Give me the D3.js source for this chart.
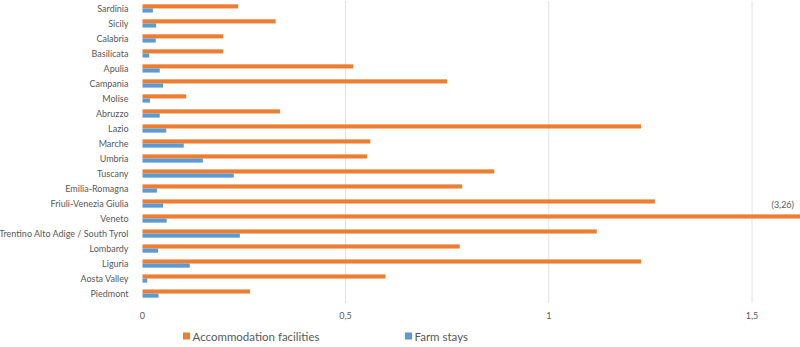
<!DOCTYPE html>
<html>
<head>
<meta charset="utf-8">
<script src="https://cdn.jsdelivr.net/npm/d3@7"></script>
<style>
  body { margin: 0; background: #fff; }
  svg { display: block; font-family: Lato, "Open Sans", sans-serif; }
</style>
</head>
<body>
<svg id="chart"></svg>
<script>
const width = 800;
const height = 347;

// regions, top to bottom as drawn
const regions = ["Sardinia", "Sicily", "Calabria", "Basilicata", "Apulia", "Campania", "Molise",
    "Abruzzo", "Lazio", "Marche", "Umbria", "Tuscany", "Emilia-Romagna", "Friuli-Venezia Giulia",
    "Veneto", "Trentino Alto Adige / South Tyrol", "Lombardy", "Liguria", "Aosta Valley", "Piedmont"];
const accommodation = [0.236, 0.328, 0.199, 0.199, 0.519, 0.75, 0.108,
    0.339, 1.227, 0.561, 0.553, 0.866, 0.787, 1.261,
    3.26, 1.118, 0.781, 1.227, 0.598, 0.265];
const farmStays = [0.026, 0.034, 0.033, 0.017, 0.043, 0.051, 0.019,
    0.043, 0.059, 0.102, 0.149, 0.225, 0.036, 0.051,
    0.06, 0.24, 0.039, 0.117, 0.012, 0.04];
const seriesNames = ["Accommodation facilities", "Farm stays"];
const tickValues = [0, 0.5, 1, 1.5];
const colors = ["#ED7D31", "#5B9BD5"];

const margin = {left: 142.3, right: 0, top: 1, bottom: 45};

const svg = d3.select("#chart").attr("width", width).attr("height", height);

const x = d3.scaleLinear()
    .domain([0, 1.618])
    .range([margin.left, width - margin.right]);

const y = d3.scaleBand()
    .domain(regions)
    .range([margin.top, height - margin.bottom - 1])
    .paddingInner(0.45)
    .paddingOuter(0.22);

const sub = d3.scaleBand()
    .domain(seriesNames)
    .range([0, y.bandwidth()]);

// gridlines
svg.append("g")
    .selectAll("line")
    .data(tickValues.slice(1))
    .join("line")
    .attr("x1", d => x(d)).attr("x2", d => x(d))
    .attr("y1", margin.top).attr("y2", height - margin.bottom + 1)
    .attr("stroke", "#e3e3e3")
    .attr("stroke-width", 1);

svg.append("clipPath").attr("id", "plot")
    .append("rect")
    .attr("x", margin.left).attr("y", 0)
    .attr("width", width - margin.left).attr("height", height - margin.bottom);

const rows = regions.map((r, i) => ({region: r, values: [accommodation[i], farmStays[i]]}));

const groups = svg.append("g")
    .attr("clip-path", "url(#plot)")
    .selectAll("g")
    .data(rows)
    .join("g")
    .attr("transform", d => `translate(0,${y(d.region)})`);

groups.selectAll("rect")
    .data(d => d.values.map((v, k) => ({v: v, k: k})))
    .join("rect")
    .attr("x", x(0))
    .attr("y", d => sub(seriesNames[d.k]))
    .attr("width", d => x(d.v) - x(0))
    .attr("height", sub.bandwidth())
    .attr("fill", d => colors[d.k]);

// category labels
svg.append("g")
    .selectAll("text")
    .data(regions)
    .join("text")
    .attr("x", 128.5)
    .attr("y", d => y(d) + y.bandwidth() / 2)
    .attr("dy", "0.35em")
    .attr("text-anchor", "end")
    .attr("font-size", 9)
    .attr("fill", "#595959")
    .text(d => d);

// value axis labels
const fmt = d => String(d).replace(".", ",");
svg.append("g")
    .selectAll("text")
    .data(tickValues)
    .join("text")
    .attr("x", d => x(d))
    .attr("y", 319)
    .attr("text-anchor", "middle")
    .attr("font-size", 9)
    .attr("fill", "#595959")
    .text(fmt);

// clipped value annotation
const veneto = regions.indexOf("Veneto");
svg.append("text")
    .attr("x", 794)
    .attr("y", y("Veneto") - 6)
    .attr("text-anchor", "end")
    .attr("font-size", 9)
    .attr("fill", "#595959")
    .text("(" + fmt(accommodation[veneto]) + ")");

// legend
const legendX = [183, 405];
const legend = svg.append("g")
    .selectAll("g")
    .data(seriesNames)
    .join("g")
    .attr("transform", (d, i) => `translate(${legendX[i]},337)`);

legend.append("rect")
    .attr("x", 0).attr("y", -4.5)
    .attr("width", 7).attr("height", 7)
    .attr("fill", (d, i) => colors[i]);

legend.append("text")
    .attr("x", 9.5)
    .attr("dy", "0.35em")
    .attr("font-size", 11.5)
    .attr("fill", "#595959")
    .text(d => d);
</script>
</body>
</html>
